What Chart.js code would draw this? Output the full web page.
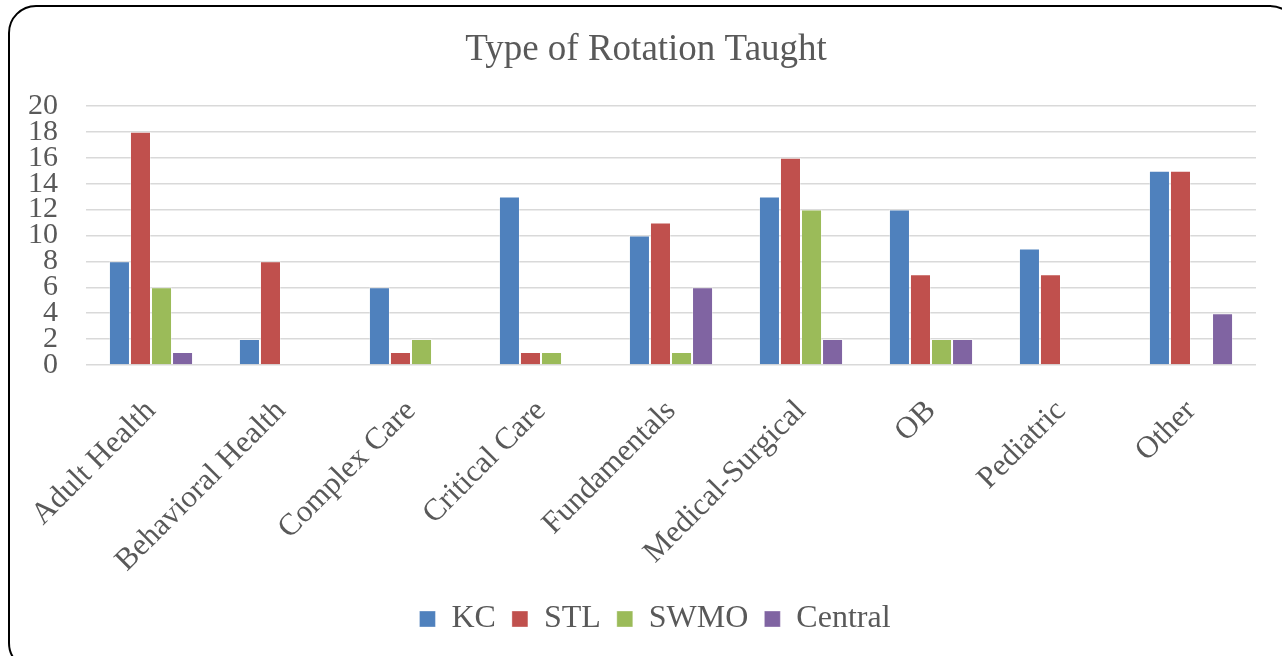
<!DOCTYPE html>
<html>
<head>
<meta charset="utf-8">
<script src="https://cdn.jsdelivr.net/npm/chart.js@4/dist/chart.umd.min.js"></script>
<style>
  html, body { margin: 0; padding: 0; background: #fff; overflow: hidden; }
  #wrap { position: relative; width: 1282px; height: 656px; }
  #frame {
    position: absolute; left: 8px; top: 5px; width: 1290px; height: 666px;
    border: 2px solid #000; border-radius: 28px; box-sizing: border-box;
  }
  #chart { position: absolute; left: 0; top: 0; }
</style>
</head>
<body>
<div id="wrap">
  <div id="frame"></div>
  <canvas id="chart" width="1282" height="656"></canvas>
</div>
<script>
// Data
const categories = ['Adult Health', 'Behavioral Health', 'Complex Care', 'Critical Care',
  'Fundamentals', 'Medical-Surgical', 'OB', 'Pediatric', 'Other'];
const kc = [8, 2, 6, 13, 10, 13, 12, 9, 15];
const stl = [18, 8, 1, 1, 11, 16, 7, 7, 15];
const swmo = [6, 0, 2, 1, 1, 12, 2, 0, 0];
const central = [1, 0, 0, 0, 6, 2, 2, 0, 4];
const yTicks = [0, 2, 4, 6, 8, 10, 12, 14, 16, 18, 20];

const textColor = '#595959';
const fontFamily = '"Liberation Serif", "Times New Roman", serif';

const makeSet = (label, data, color) => ({
  label: label,
  data: data,
  backgroundColor: color,
  borderColor: 'rgba(255,255,255,0.35)',
  borderWidth: 1,
  barPercentage: 1,
  categoryPercentage: 0.647
});

// nudge title and legend a bit to the right, like the original
const boxShift = {
  id: 'boxShift',
  afterLayout(chart) {
    chart.legend.left += 17;
    chart.legend.right += 17;
    chart.titleBlock.left += 8;
    chart.titleBlock.right += 8;
  }
};

const chart = new Chart(document.getElementById('chart'), {
  type: 'bar',
  data: {
    labels: categories,
    datasets: [
      makeSet('KC', kc, '#4F81BD'),
      makeSet('STL', stl, '#C0504D'),
      makeSet('SWMO', swmo, '#9BBB59'),
      makeSet('Central', central, '#8064A2')
    ]
  },
  plugins: [boxShift],
  options: {
    responsive: false,
    animation: false,
    layout: { padding: { left: 20, right: 26, top: 0, bottom: 11 } },
    plugins: {
      title: {
        display: true,
        text: 'Type of Rotation Taught',
        color: textColor,
        font: { family: fontFamily, size: 37, weight: 'normal' },
        padding: { top: 28, bottom: 33.5 }
      },
      legend: {
        position: 'bottom',
        labels: {
          color: textColor,
          font: { family: fontFamily, size: 32 },
          boxWidth: 16,
          boxHeight: 16,
          padding: 16
        }
      },
      tooltip: { enabled: false }
    },
    scales: {
      x: {
        grid: { display: false },
        border: { display: false },
        ticks: {
          color: textColor,
          font: { family: fontFamily, size: 31 },
          maxRotation: 45,
          minRotation: 45,
          autoSkip: false,
          padding: 20
        },
        afterFit: (scale) => { scale.height = 222; }
      },
      y: {
        min: 0,
        max: 20,
        afterBuildTicks: (scale) => { scale.ticks = yTicks.map(v => ({ value: v })); },
        grid: { color: '#d9d9d9', lineWidth: 1.5, drawTicks: false },
        border: { display: false },
        ticks: {
          color: textColor,
          font: { family: fontFamily, size: 30 },
          autoSkip: false,
          padding: 28
        },
        afterFit: (scale) => { scale.width = 66; }
      }
    }
  }
});
</script>
</body>
</html>
